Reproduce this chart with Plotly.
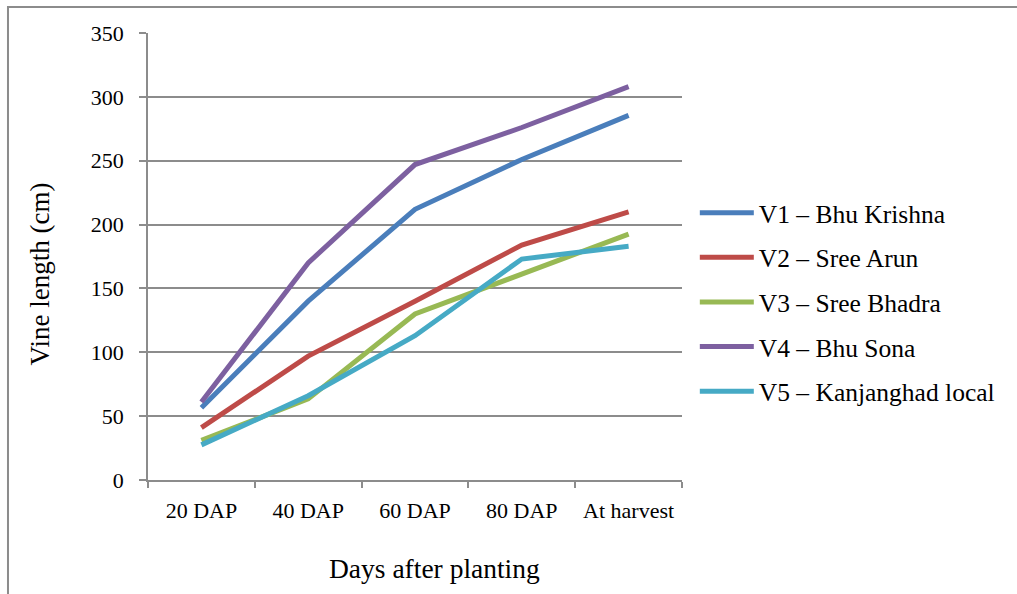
import plotly.graph_objects as go

categories = ["20 DAP", "40 DAP", "60 DAP", "80 DAP", "At harvest"]
v1_bhu_krishna = [56.5, 140, 212, 251, 285.5]
v2_sree_arun = [41, 97, 140, 184, 210]
v3_sree_bhadra = [31, 63.5, 130, 161, 192.5]
v4_bhu_sona = [61, 170, 247, 276, 308]
v5_kanjanghad = [27.5, 66, 113, 173, 183]

series_names = ["V1 – Bhu Krishna", "V2 – Sree Arun", "V3 – Sree Bhadra",
                "V4 – Bhu Sona", "V5 – Kanjanghad local"]
series_values = [v1_bhu_krishna, v2_sree_arun, v3_sree_bhadra, v4_bhu_sona, v5_kanjanghad]
colors = ["#4A7EBB", "#BE4B48", "#98B954", "#7D60A0", "#46AAC5"]

FONT = "Liberation Serif"

fig = go.Figure()
for i, (name, vals, col) in enumerate(zip(series_names, series_values, colors)):
    fig.add_trace(go.Scatter(
        x=categories, y=vals, name=name, mode="lines",
        line=dict(color=col, width=5),
        legendgroup=f"g{i}",
    ))

fig.update_layout(
    width=1017, height=594,
    margin=dict(l=148, r=335, t=33, b=114, autoexpand=False),
    paper_bgcolor="white", plot_bgcolor="white",
    font=dict(family=FONT, color="#000000", size=22),
    showlegend=True,
    legend=dict(
        x=1.024, xanchor="left", y=0.398, yanchor="middle",
        font=dict(family=FONT, size=25.5, color="#000000"),
        tracegroupgap=8.5, bgcolor="rgba(0,0,0,0)",
        itemwidth=54,
    ),
    xaxis=dict(
        type="category", range=[-0.5, 4.5],
        showline=True, linecolor="#8C8C8C", linewidth=1.5,
        ticks="outside", tickson="boundaries", ticklen=6, tickcolor="#8C8C8C", tickwidth=1.5,
        showgrid=False, zeroline=False,
        tickfont=dict(family=FONT, size=22, color="#000000"),
        ticklabelstandoff=10,
    ),
    yaxis=dict(
        range=[0, 350], tickvals=[0, 50, 100, 150, 200, 250, 300, 350],
        showline=True, linecolor="#8C8C8C", linewidth=1.5,
        ticks="outside", ticklen=7, tickcolor="#8C8C8C", tickwidth=1.5,
        showgrid=True, gridcolor="#8C8C8C", gridwidth=1.5,
        zeroline=False,
        tickfont=dict(family=FONT, size=22, color="#000000"),
        ticklabelstandoff=11,
    ),
    annotations=[
        dict(text="Vine length (cm)", xref="paper", yref="paper",
             x=-0.2022, y=0.46, xanchor="center", yanchor="middle",
             textangle=-90, showarrow=False,
             font=dict(family=FONT, size=27, color="#000000")),
        dict(text="Days after planting", xref="paper", yref="paper",
             x=0.537, y=-0.197, xanchor="center", yanchor="middle",
             showarrow=False,
             font=dict(family=FONT, size=27.5, color="#000000")),
    ],
    shapes=[
        dict(type="rect", xref="paper", yref="paper",
             x0=-0.2622, x1=1.8, y0=-0.5, y1=1.0582,
             line=dict(color="#8C8C8C", width=2), fillcolor="rgba(0,0,0,0)",
             layer="below"),
    ],
)

fig.write_html("out.html")
